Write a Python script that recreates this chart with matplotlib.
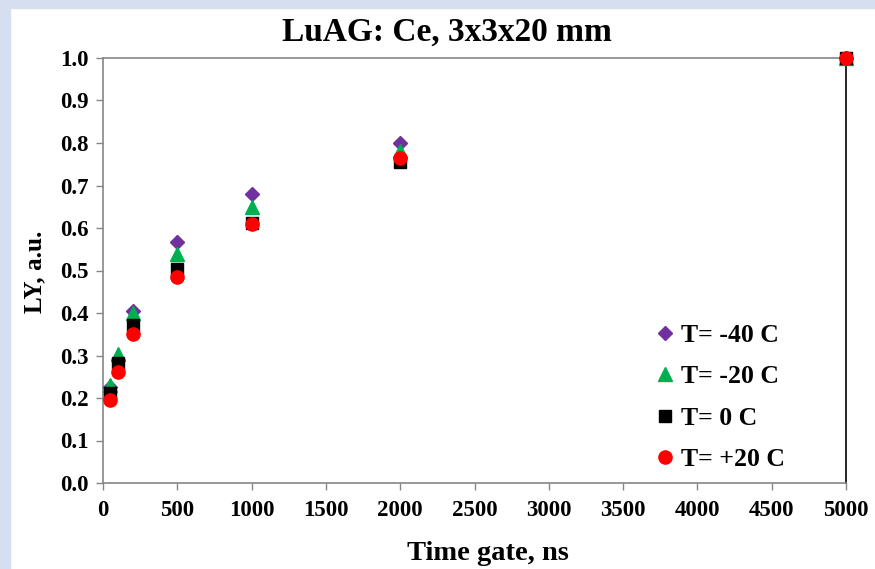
#!/usr/bin/env python

import numpy as np
import matplotlib as mpl
import matplotlib.pyplot as plt
from matplotlib.patches import Rectangle

mpl.rc('font', family='Liberation Serif', weight='bold')
mpl.rc('savefig', dpi=100)

# Time gate (ns)
gate = [50, 100, 200, 500, 1000, 2000, 5000]

# LY, a.u. for each temperature
ly_m40 = [0.225, 0.290, 0.405, 0.566, 0.680, 0.801, 1.0]
ly_m20 = [0.231, 0.303, 0.399, 0.538, 0.650, 0.780, 1.0]
ly_0 = [0.212, 0.282, 0.372, 0.504, 0.612, 0.756, 1.0]
ly_p20 = [0.196, 0.262, 0.351, 0.484, 0.609, 0.764, 1.0]

xticks = np.arange(0, 5001, 500)
yticks = np.round(np.arange(0, 1.01, 0.1), 1)


def main() -> None:

    fig = plt.figure(figsize=(8.75, 5.69), dpi=100, facecolor='white')

    # light blue slide frame on the left and top
    bg = '#d5dff0'
    fig.patches.append(Rectangle((0, 0), 10/875, 1, transform=fig.transFigure,
                                 color=bg, zorder=0))
    fig.patches.append(Rectangle((0, 1 - 8/569), 1, 8/569, transform=fig.transFigure,
                                 color=bg, zorder=0))

    ax0 = fig.add_axes([103/875, 86/569, 743/875, 425/569])

    ax0.plot(gate, ly_m40, ls='none', marker='D', ms=7.5, color='#7030a0',
             label='T= -40 C', clip_on=False, zorder=3)
    ax0.plot(gate, ly_m20, ls='none', marker='^', ms=9.5, color='#00b050',
             label='T= -20 C', clip_on=False, zorder=4)
    ax0.plot(gate, ly_0, ls='none', marker='s', ms=8.5, color='black',
             label='T= 0 C', clip_on=False, zorder=5)
    ax0.plot(gate, ly_p20, ls='none', marker='o', ms=9.5, color='#ff0000',
             label='T= +20 C', clip_on=False, zorder=6)

    ax0.set_xlim(0, 5000)
    ax0.set_ylim(0, 1.0)
    ax0.set_xticks(xticks)
    ax0.set_yticks(yticks)
    ax0.set_yticklabels([f'{v:.1f}' for v in yticks])

    for side in ('left', 'bottom', 'top'):
        ax0.spines[side].set_color('#868686')
        ax0.spines[side].set_linewidth(1.2)
    ax0.spines['right'].set_color('black')
    ax0.spines['right'].set_linewidth(1.2)

    ax0.tick_params(axis='both', direction='out', length=5, width=1,
                    color='#868686', labelsize=16.5)
    ax0.tick_params(axis='x', pad=7)
    ax0.tick_params(axis='y', pad=5)

    fig.text(447/875, 1 - 32/569, 'LuAG: Ce, 3x3x20 mm', fontsize=24,
             fontweight='bold', ha='center', va='center')

    ax0.set_xlabel('Time gate, ns', fontsize=20.5, fontweight='bold')
    ax0.xaxis.set_label_coords((488 - 103)/743, -(553 - 483)/425)
    ax0.xaxis.label.set_va('center')
    ax0.set_ylabel('LY, a.u.', fontsize=18.2, fontweight='bold')
    ax0.yaxis.set_label_coords(-(103 - 35)/743, (483 - 272)/425)
    ax0.yaxis.label.set_va('center')

    ax0.legend(
        loc='upper left',
        bbox_to_anchor=(0.729, 0.405),
        frameon=False,
        fontsize=18.5,
        handlelength=0.6,
        handletextpad=0.3,
        labelspacing=0.72,
        borderpad=0,
    )

    fig.savefig('out.png', dpi=100)

    return


if __name__ == '__main__':
    main()
